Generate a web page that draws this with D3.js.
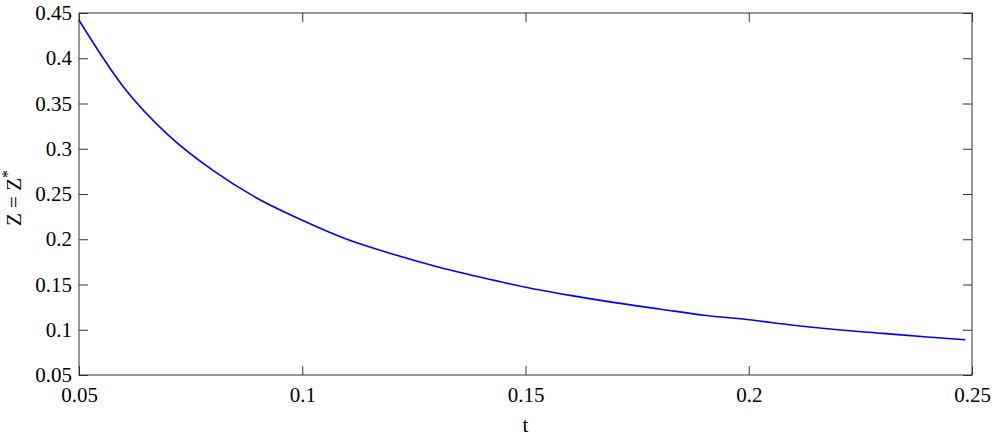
<!DOCTYPE html>
<html>
<head>
<meta charset="utf-8">
<script src="https://cdn.jsdelivr.net/npm/d3@7.9.0/dist/d3.min.js"></script>
</head>
<body style="margin:0">
<svg id="chart" width="995" height="436"></svg>
<script>
// values
const tValues = [0.05, 0.06, 0.07, 0.08, 0.09, 0.10, 0.11, 0.12, 0.13, 0.14, 0.15,
  0.16, 0.17, 0.18, 0.19, 0.20, 0.21, 0.22, 0.23, 0.24, 0.2485];
const zValues = [0.442, 0.368, 0.315, 0.276, 0.245, 0.221, 0.200, 0.184, 0.170, 0.158, 0.147,
  0.138, 0.130, 0.123, 0.116, 0.111, 0.105, 0.100, 0.096, 0.092, 0.089];
const xTicks = [0.05, 0.1, 0.15, 0.2, 0.25];
const yTicks = [0.05, 0.1, 0.15, 0.2, 0.25, 0.3, 0.35, 0.4, 0.45];

const margin = { left: 79, right: 23, top: 13, bottom: 61 };
const width = 995, height = 436;
const fontSize = 21;
const svg = d3.select('#chart');

const x = d3.scaleLinear().domain([0.05, 0.25]).range([margin.left, width - margin.right]);
const y = d3.scaleLinear().domain([0.05, 0.45]).range([height - margin.bottom, margin.top]);

const fmt = (d) => String(+d.toFixed(2));
const tickLen = 9;
const axisColor = '#333';

function serif(sel) {
  sel.attr('font-family', 'Liberation Serif')
    .attr('font-size', fontSize)
    .style('font-family', '"Liberation Serif"');
}

function styleAxis(g) {
  g.attr('font-family', 'Liberation Serif').attr('font-size', fontSize);
  g.select('.domain').remove();
  g.selectAll('.tick line').attr('stroke', axisColor).attr('stroke-width', 1);
  g.selectAll('text').attr('fill', '#000').call(serif);
}

// bottom + top ticks
svg.append('g')
  .attr('transform', `translate(0,${y(0.05)})`)
  .call(d3.axisBottom(x).tickValues(xTicks).tickFormat(fmt).tickSizeInner(-tickLen).tickPadding(12))
  .call(styleAxis);

svg.append('g')
  .attr('transform', `translate(0,${y(0.45)})`)
  .call(d3.axisTop(x).tickValues(xTicks).tickFormat('').tickSizeInner(-tickLen))
  .call(styleAxis);

// left + right ticks
svg.append('g')
  .attr('transform', `translate(${x(0.05)},0)`)
  .call(d3.axisLeft(y).tickValues(yTicks).tickFormat(fmt).tickSizeInner(-tickLen).tickPadding(7))
  .call(styleAxis);

svg.append('g')
  .attr('transform', `translate(${x(0.25)},0)`)
  .call(d3.axisRight(y).tickValues(yTicks).tickFormat('').tickSizeInner(-tickLen))
  .call(styleAxis);

// box
svg.append('rect')
  .attr('x', x(0.05)).attr('y', y(0.45))
  .attr('width', x(0.25) - x(0.05)).attr('height', y(0.05) - y(0.45))
  .attr('fill', 'none').attr('stroke', axisColor).attr('stroke-width', 1);

// curve
const line = d3.line()
  .x((d, i) => x(tValues[i]))
  .y((d) => y(d))
  .curve(d3.curveMonotoneX);

svg.append('path')
  .datum(zValues)
  .attr('d', line)
  .attr('fill', 'none')
  .attr('stroke', '#0000ff')
  .attr('stroke-width', 1.6);

// axis labels
svg.append('text')
  .attr('x', (x(0.05) + x(0.25)) / 2)
  .attr('y', 432)
  .attr('text-anchor', 'middle')
  .call(serif)
  .text('t');

const yl = svg.append('text')
  .attr('transform', `translate(21,${(y(0.05) + y(0.45)) / 2 + 4}) rotate(-90)`)
  .attr('text-anchor', 'middle')
  .call(serif);
yl.append('tspan').text('Z = Z');
yl.append('tspan').attr('dy', -8).attr('font-size', 16).text('*');
</script>
</body>
</html>
